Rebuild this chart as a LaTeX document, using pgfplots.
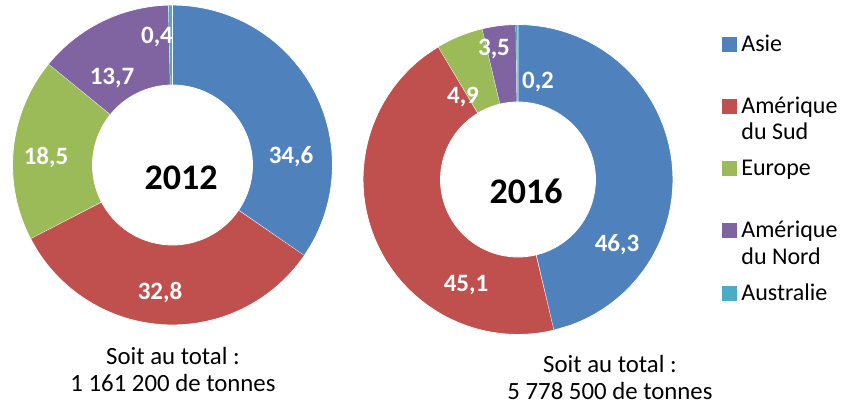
\documentclass[border=0pt]{standalone}
\usepackage{pgfplots}
\pgfplotsset{compat=1.18}
\usepackage{pgfplotstable}
\usepackage{fontspec}
\setmainfont{Carlito}

\definecolor{c0}{HTML}{4F81BD}
\definecolor{c1}{HTML}{C0504D}
\definecolor{c2}{HTML}{9BBB59}
\definecolor{c3}{HTML}{8064A2}
\definecolor{c4}{HTML}{4BACC6}

\pgfplotstableread{
region pct
Asie 34.6
AmSud 32.8
Europe 18.5
AmNord 13.7
Australie 0.4
}\tabA
\pgfplotstableread{
region pct
Asie 46.3
AmSud 45.1
Europe 4.9
AmNord 3.5
Australie 0.2
}\tabB

% #1 table, #2 cx, #3 cy, #4 outer radius, #5 inner radius
\newcommand{\donut}[5]{%
  \def\cum{0}%
  \pgfplotsforeachungrouped \i in {0,...,4}{%
    \pgfplotstablegetelem{\i}{pct}\of{#1}%
    \pgfmathsetmacro\s{\cum}%
    \pgfmathsetmacro\p{\pgfplotsretval}%
    \pgfmathsetmacro\cum{\s+\p}%
    \edef\doplot{\noexpand\addplot[fill=c\i, draw=white, line width=0.4pt, no markers,
      samples at={0,0.02,...,0.98,1,1.001,1.02,1.04,...,2}, variable=\noexpand\t]
      ({#2+ifthenelse(\noexpand\t<=1.0005,#4,#5)*cos(90-3.6*(\s+\p*ifthenelse(\noexpand\t<=1.0005,\noexpand\t,2-\noexpand\t)))},
       {#3-ifthenelse(\noexpand\t<=1.0005,#4,#5)*sin(90-3.6*(\s+\p*ifthenelse(\noexpand\t<=1.0005,\noexpand\t,2-\noexpand\t)))});}%
    \doplot
  }%
}

\begin{document}
\begin{tikzpicture}
\begin{axis}[
  x=0.5pt, y=0.5pt,
  xmin=0, xmax=846, ymin=0, ymax=409,
  y dir=reverse,
  hide axis, clip=false, scale only axis,
]
\path[use as bounding box] (axis cs:0,0) rectangle (axis cs:846,409);
\donut{\tabA}{172.5}{165}{160}{80}
\donut{\tabB}{518}{179.5}{155}{77.5}

% data labels
\begin{scope}[every node/.style={text=white, font=\bfseries\fontsize{12.5}{13}\selectfont}]
\node at (axis cs:291,157) {34,6};
\node at (axis cs:160,293) {32,8};
\node at (axis cs:46,158) {18,5};
\node at (axis cs:112,78) {13,7};
\node at (axis cs:157,37) {0,4};
\node at (axis cs:617,245) {46,3};
\node at (axis cs:466,285) {45,1};
\node at (axis cs:463,97) {4,9};
\node at (axis cs:494,49) {3,5};
\node at (axis cs:538,82) {0,2};
\end{scope}

\node[font=\bfseries\fontsize{18}{20}\selectfont] at (axis cs:181,178) {2012};
\node[font=\bfseries\fontsize{18}{20}\selectfont] at (axis cs:526,191) {2016};

\node[align=center, font=\fontsize{12.4}{13.5}\selectfont] at (axis cs:173,369) {Soit au total :\\1 161 200 de tonnes};
\node[align=center, font=\fontsize{12.4}{13.5}\selectfont] at (axis cs:610,377) {Soit au total :\\5 778 500 de tonnes};

% legend
\addplot[only marks, mark=square*, mark size=3.5pt, color=c0] coordinates {(729,44)};
\addplot[only marks, mark=square*, mark size=3.5pt, color=c1] coordinates {(729,106)};
\addplot[only marks, mark=square*, mark size=3.5pt, color=c2] coordinates {(729,168)};
\addplot[only marks, mark=square*, mark size=3.5pt, color=c3] coordinates {(729,230)};
\addplot[only marks, mark=square*, mark size=3.5pt, color=c4] coordinates {(729,293)};
\begin{scope}[every node/.style={anchor=base west, inner sep=0pt, font=\fontsize{12}{13}\selectfont}]
\node at (axis cs:741,51) {Asie};
\node at (axis cs:741,113) {Amérique};
\node at (axis cs:741,139) {du Sud};
\node at (axis cs:741,175) {Europe};
\node at (axis cs:741,237) {Amérique};
\node at (axis cs:741,264) {du Nord};
\node at (axis cs:741,300) {Australie};
\end{scope}
\end{axis}
\end{tikzpicture}
\end{document}
